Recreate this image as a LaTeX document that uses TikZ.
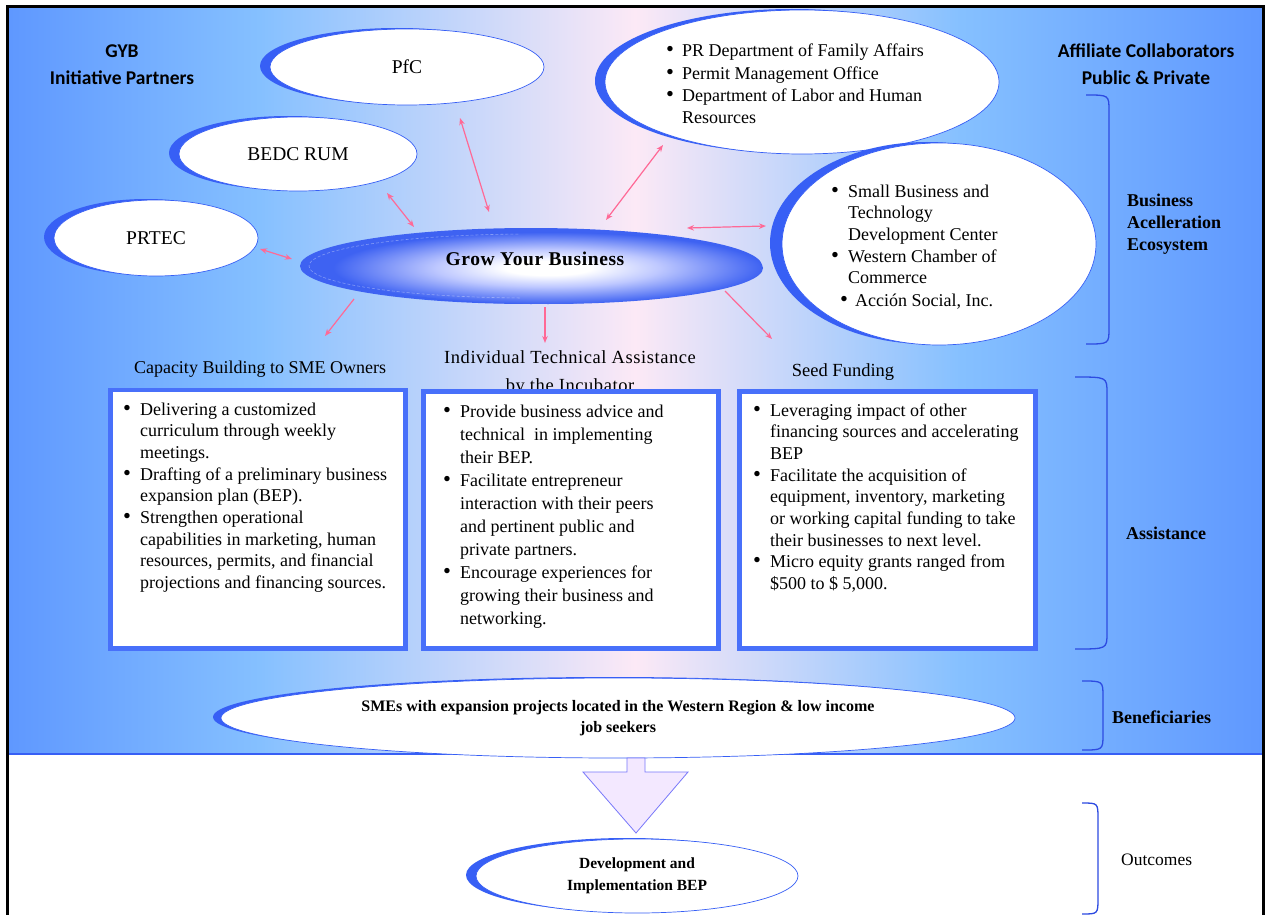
\documentclass[tikz,border=0pt]{standalone}
\usepackage{fontspec}
\usepackage{graphicx}
\setmainfont{Liberation Serif}
\newfontfamily\calfont{Carlito}
\usetikzlibrary{shapes.geometric,arrows.meta}
\definecolor{bgA}{RGB}{95,152,255}
\definecolor{bgB}{RGB}{133,192,255}
\definecolor{bgC}{RGB}{252,233,246}
\definecolor{cres}{RGB}{55,95,245}
\definecolor{boxblue}{RGB}{72,112,250}
\definecolor{pinkar}{RGB}{255,105,150}
\definecolor{gybblue}{RGB}{62,98,242}
\definecolor{gybmid}{RGB}{190,200,255}
\definecolor{arrfill}{RGB}{243,232,255}
\definecolor{arrline}{RGB}{120,120,250}
\definecolor{bracec}{RGB}{45,75,225}
\pgfdeclarehorizontalshading{bgshade}{100bp}{color(0bp)=(bgA); color(25bp)=(bgA); color(35bp)=(bgB); color(50bp)=(bgC); color(63bp)=(bgB); color(75bp)=(bgA); color(100bp)=(bgA)}
\pgfdeclareradialshading{gybshade}{\pgfpoint{0bp}{0bp}}{color(0bp)=(white); color(5bp)=(white); color(13bp)=(gybmid); color(25bp)=(gybblue); color(50bp)=(gybblue)}
\newcommand\mybrace[4]{\draw[bracec, line width=1.3pt] (#1,#3) .. controls (#2,#3) and (#2,#3) .. (#2,#3+16) -- (#2,#4-16) .. controls (#2,#4) and (#2,#4) .. (#1,#4);}
\newcommand\bul{\scalebox{1.25}{\textbullet}}
\begin{document}
\begin{tikzpicture}[x=1pt,y=-1pt,
  wellipse/.style={ellipse, draw=cres, line width=0.7pt, fill=white, inner sep=0pt},
  body/.style={font=\fontsize{18}{21.7}\selectfont, inner sep=0pt},
  sanslab/.style={font=\calfont\bfseries\fontsize{19.5}{27}\selectfont, align=center, inner sep=0pt},
  serlab/.style={font=\bfseries\fontsize{18}{22}\selectfont, align=left, inner sep=0pt},
  pinkarrow/.style={pinkar, line width=1.2pt, -{Stealth[length=7pt,width=5.5pt]}},
  pinkdouble/.style={pinkar, line width=1.2pt, {Stealth[length=7pt,width=5.5pt]}-{Stealth[length=7pt,width=5.5pt]}},
  panel/.style={draw=boxblue, line width=4.5pt, fill=white}]
\useasboundingbox (0,0) rectangle (1266,915);
\fill[white] (0,0) rectangle (1266,915);
\shade[shading=bgshade] (9,8) rectangle (1262,754);
\draw[cres, line width=1.2pt] (9,754) -- (1262,754);
\draw[line width=2.5pt] (7.5,916) -- (7.5,6.5) -- (1263.5,6.5) -- (1263.5,916);

% headings
\node[sanslab] (gybp) at (122,65) {GYB\\Initiative Partners};
\node[sanslab] (affil) at (1146,64) {Affiliate Collaborators\\Public \& Private};

% partner ellipses
\fill[cres] (397,66) ellipse [x radius=137, y radius=38];
\node[wellipse, minimum width=274pt, minimum height=76pt, font=\fontsize{19.5}{22}\selectfont] (pfc) at (407,67) {PfC};
\fill[cres] (288,153) ellipse [x radius=119, y radius=37];
\node[wellipse, minimum width=238pt, minimum height=74pt, font=\fontsize{19.5}{22}\selectfont] (bedc) at (298,154) {BEDC RUM};
\fill[cres] (146,237) ellipse [x radius=102, y radius=38];
\node[wellipse, minimum width=204pt, minimum height=76pt, font=\fontsize{19.5}{22}\selectfont] (prtec) at (156,238) {PRTEC};

% collaborator ellipses
\fill[cres] (792,81) ellipse [x radius=197, y radius=72];
\node[wellipse, minimum width=394pt, minimum height=144pt] (topr) at (802,82) {};
\node[body, font=\fontsize{18}{22.3}\selectfont, anchor=base west] (toprt) at (666,57) {\begin{tabular}[t]{@{}p{16pt}@{}l@{}}
\bul & PR Department of Family Affairs\\
\bul & Permit Management Office\\
\bul & Department of Labor and Human\\
 & Resources
\end{tabular}};
\fill[cres] (927,243) ellipse [x radius=157, y radius=101];
\node[wellipse, minimum width=314pt, minimum height=202pt] (midr) at (939,244) {};
\node[body, anchor=base west] (midrt) at (831,197) {\begin{tabular}[t]{@{}p{17pt}@{}l@{}}
\bul & Small Business and\\
 & Technology\\
 & Development Center\\
\bul & Western Chamber of\\
 & Commerce
\end{tabular}};
\node[body, anchor=base west] (midrt2) at (840,306) {\begin{tabular}[t]{@{}p{15pt}@{}l@{}}
\bul & Acción Social, Inc.
\end{tabular}};

% Grow Your Business
\node[ellipse, minimum width=462pt, minimum height=76pt, fill=gybblue, inner sep=0pt] (gyb) at (531,266) {};
\shade[shading=gybshade] (548,268) ellipse [x radius=215, y radius=36];
\begin{scope}
\clip (295,215) rectangle (520,320);
\draw[white, opacity=0.35, line width=0.6pt, dash pattern=on 3pt off 2pt] (531,266) ellipse [x radius=222, y radius=32];
\end{scope}
\node[font=\bfseries\fontsize{19.5}{22}\selectfont\addfontfeature{LetterSpace=3}, inner sep=0pt] (gybt) at (535,259) {Grow Your Business};

% arrows between partners and GYB
\coordinate (a1s) at (260,249); \coordinate (a1e) at (292,259);
\coordinate (a2s) at (387,193); \coordinate (a2e) at (414,227);
\coordinate (a3s) at (460,118); \coordinate (a3e) at (489,212);
\coordinate (a4s) at (663,145); \coordinate (a4e) at (606,220);
\coordinate (a5s) at (766,226); \coordinate (a5e) at (687,228);
\draw[pinkdouble] (a1s) -- (a1e);
\draw[pinkdouble] (a2s) -- (a2e);
\draw[pinkdouble] (a3s) -- (a3e);
\draw[pinkdouble] (a4s) -- (a4e);
\draw[pinkdouble] (a5s) -- (a5e);
\coordinate (b1s) at (354,299); \coordinate (b1e) at (325,336);
\coordinate (b2s) at (545,307); \coordinate (b2e) at (545,343);
\coordinate (b3s) at (725,291); \coordinate (b3e) at (772,339);
\draw[pinkarrow] (b1s) -- (b1e);
\draw[pinkarrow] (b2s) -- (b2e);
\draw[pinkarrow] (b3s) -- (b3e);

% titles
\node[font=\fontsize{18}{22}\selectfont, inner sep=0pt] (t1) at (260,369) {Capacity Building to SME Owners};
\node[font=\fontsize{18.5}{22}\selectfont\addfontfeature{LetterSpace=3}, anchor=base, inner sep=0pt] (t2) at (570,363) {Individual Technical Assistance};
\node[font=\fontsize{18.5}{22}\selectfont\addfontfeature{LetterSpace=3}, anchor=base, inner sep=0pt] (t2b) at (570,391) {by the Incubator};
\node[font=\fontsize{18.5}{22}\selectfont, inner sep=0pt] (t3) at (843,372) {Seed Funding};

% panels
\draw[panel] (110.5,390) rectangle (405.5,648.5);
\draw[panel] (423.5,391.5) rectangle (718.5,648.5);
\draw[panel] (739.5,391.5) rectangle (1035.5,648.5);
\node[body, anchor=base west] (p1) at (123,415) {\begin{tabular}[t]{@{}p{17pt}@{}l@{}}
\bul & Delivering a customized\\
 & curriculum through weekly\\
 & meetings.\\
\bul & Drafting of a preliminary business\\
 & expansion plan (BEP).\\
\bul & Strengthen operational\\
 & capabilities in marketing, human\\
 & resources, permits, and financial\\
 & projections and financing sources.
\end{tabular}};
\node[body, font=\fontsize{18}{23}\selectfont, anchor=base west] (p2) at (443,417) {\begin{tabular}[t]{@{}p{17pt}@{}l@{}}
\bul & Provide business advice and\\
 & technical \ in implementing\\
 & their BEP.\\
\bul & Facilitate entrepreneur\\
 & interaction with their peers\\
 & and pertinent public and\\
 & private partners.\\
\bul & Encourage experiences for\\
 & growing their business and\\
 & networking.
\end{tabular}};
\node[body, anchor=base west] (p3) at (753,416) {\begin{tabular}[t]{@{}p{17pt}@{}l@{}}
\bul & Leveraging impact of other\\
 & financing sources and accelerating\\
 & BEP\\
\bul & Facilitate the acquisition of\\
 & equipment, inventory, marketing\\
 & or working capital funding to take\\
 & their businesses to next level.\\
\bul & Micro equity grants ranged from\\
 & \$500 to \$ 5,000.
\end{tabular}};

% beneficiaries
\fill[cres] (610,717) ellipse [x radius=397, y radius=40];
\node[wellipse, minimum width=794pt, minimum height=80pt, font=\bfseries\fontsize{16}{21}\selectfont, align=center] (benef) at (618,718) {SMEs with expansion projects located in the Western Region \& low income\\job seekers};

% block arrow
\draw[arrline, line width=0.8pt, fill=arrfill] (627,758) -- (645,758) -- (645,772) -- (688,772) -- (636,833) -- (583,772) -- (627,772) -- cycle;
\coordinate (barrow) at (636,833);

% outcome
\fill[cres] (627,875) ellipse [x radius=161, y radius=37];
\node[wellipse, minimum width=322pt, minimum height=74pt, font=\bfseries\fontsize{15.5}{22}\selectfont, align=center] (outc) at (637,876) {Development and\\Implementation BEP};

% braces and labels
\mybrace{1086}{1109}{95}{344}
\mybrace{1075}{1107}{377}{649}
\mybrace{1082}{1103}{681}{750}
\mybrace{1082}{1098}{803}{914}
\node[serlab, anchor=west] (bae) at (1127,224) {Business\\Acelleration\\Ecosystem};
\node[serlab, anchor=west] (assist) at (1126,533) {Assistance};
\node[serlab, anchor=west] (benlab) at (1112,717) {Beneficiaries};
\node[font=\fontsize{17.5}{22}\selectfont, anchor=west, inner sep=0pt] (outlab) at (1121,860) {Outcomes};
\end{tikzpicture}
\end{document}
